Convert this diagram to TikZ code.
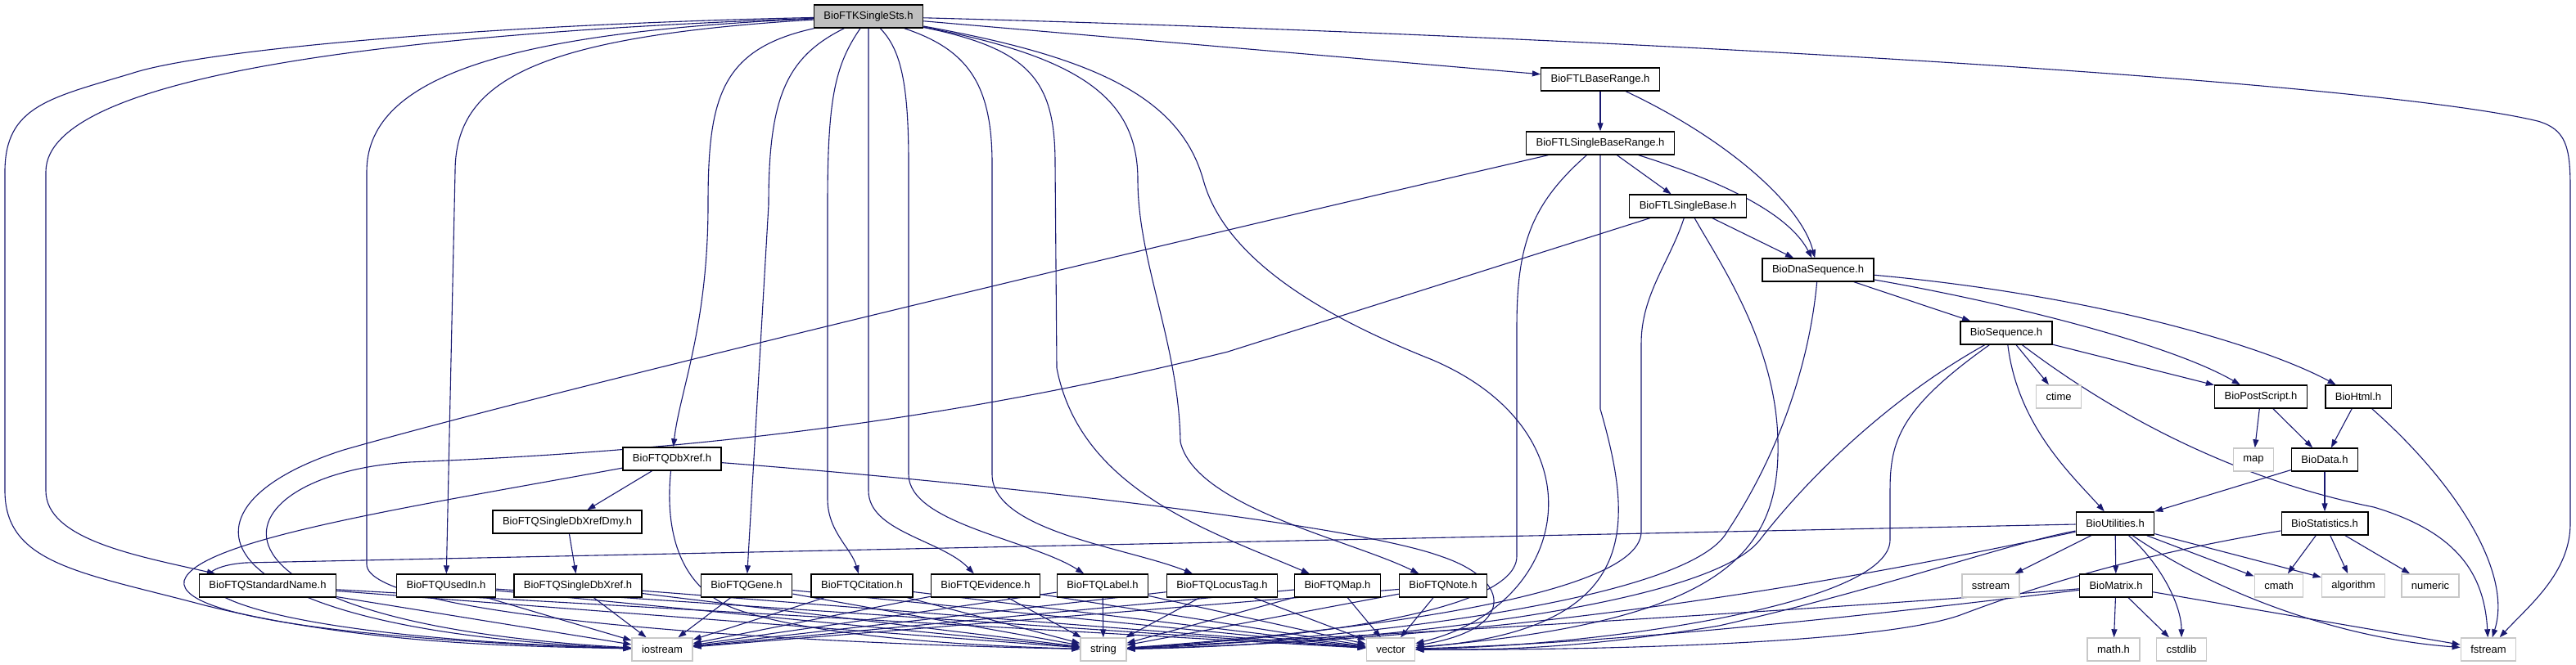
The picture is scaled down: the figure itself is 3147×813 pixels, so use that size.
\documentclass[tikz,border=0pt]{standalone}
\usepackage{fontspec}
\setmainfont{Liberation Sans}
\usetikzlibrary{arrows.meta}
\definecolor{edgeblue}{RGB}{25,25,112}
\definecolor{rootgrey}{RGB}{191,191,191}
\definecolor{sysgrey}{RGB}{200,200,200}
\pgfdeclarelayer{background}
\pgfsetlayers{background,main}

\begin{document}
\begin{tikzpicture}[x=0.5pt,y=0.5pt,yscale=-1,xscale=1,
  hdr/.style={draw=black,fill=white,line width=0.7pt,inner xsep=6pt,inner ysep=0pt,minimum height=14pt,font=\fontsize{6.5}{7}\selectfont},
  roothdr/.style={hdr,fill=rootgrey},
  syshdr/.style={hdr,draw=sysgrey},
  incl/.style={draw=edgeblue,line width=0.55pt,-{Triangle[length=5pt,width=3.5pt]}}]
%set diagram size: 3147 x 813
\useasboundingbox (0,0) rectangle (3147,813);

% Text Node
\node [roothdr] (root) at (1061,20) {BioFTKSingleSts.h};
% Text Node
\node [hdr] (baserange) at (1955,97) {BioFTLBaseRange.h};
% Text Node
\node [hdr] (sbaserange) at (1955,175) {BioFTLSingleBaseRange.h};
% Text Node
\node [hdr] (sbase) at (2062,252) {BioFTLSingleBase.h};
% Text Node
\node [hdr] (dnaseq) at (2221,330) {BioDnaSequence.h};
% Text Node
\node [hdr] (bioseq) at (2451,407) {BioSequence.h};
% Text Node
\node [syshdr] (ctime) at (2515,485) {ctime};
% Text Node
\node [hdr] (postscript) at (2762,485) {BioPostScript.h};
% Text Node
\node [hdr] (html) at (2881,485) {BioHtml.h};
% Text Node
\node [syshdr] (map) at (2753,562) {map};
% Text Node
\node [hdr] (biodata) at (2840,562) {BioData.h};
% Text Node
\node [hdr] (utilities) at (2584,640) {BioUtilities.h};
% Text Node
\node [hdr] (statistics) at (2840,640) {BioStatistics.h};
% Text Node
\node [syshdr] (sstream) at (2432,716) {sstream};
% Text Node
\node [hdr] (matrix) at (2585,716) {BioMatrix.h};
% Text Node
\node [syshdr] (cmath) at (2784,716) {cmath};
% Text Node
\node [syshdr] (algorithm) at (2875,716) {algorithm};
% Text Node
\node [syshdr] (numeric) at (2969,716) {numeric};
% Text Node
\node [syshdr] (mathh) at (2582,794) {math.h};
% Text Node
\node [syshdr] (cstdlib) at (2665,794) {cstdlib};
% Text Node
\node [syshdr] (fstream) at (3040,794) {fstream};
% Text Node
\node [hdr] (dbxref) at (821,561) {BioFTQDbXref.h};
% Text Node
\node [hdr] (dbxrefdmy) at (693,638) {BioFTQSingleDbXrefDmy.h};
% Text Node
\node [hdr] (stdname) at (327,716) {BioFTQStandardName.h};
% Text Node
\node [hdr] (usedin) at (545,716) {BioFTQUsedIn.h};
% Text Node
\node [hdr] (sdbxref) at (706,716) {BioFTQSingleDbXref.h};
% Text Node
\node [hdr] (gene) at (912,716) {BioFTQGene.h};
% Text Node
\node [hdr] (citation) at (1053,716) {BioFTQCitation.h};
% Text Node
\node [hdr] (evidence) at (1204,716) {BioFTQEvidence.h};
% Text Node
\node [hdr] (label) at (1347,716) {BioFTQLabel.h};
% Text Node
\node [hdr] (locustag) at (1493,716) {BioFTQLocusTag.h};
% Text Node
\node [hdr] (qmap) at (1634,716) {BioFTQMap.h};
% Text Node
\node [hdr] (note) at (1763,716) {BioFTQNote.h};
% Text Node
\node [syshdr] (iostream) at (809,794) {iostream};
% Text Node
\node [syshdr] (string) at (1348,794) {string};
% Text Node
\node [syshdr] (vector) at (1699,794) {vector};

\begin{pgfonlayer}{background}
%Curve Lines: root includes
\draw [incl] (root) .. controls (600,30) and (250,60) .. (160,90) .. controls (60,120) and (6,130) .. (6,210) -- (6,600) .. controls (6,690) and (100,700) .. (250,740) .. controls (450,790) and (650,790) .. (iostream);
\draw [incl] (root) .. controls (500,40) and (56,90) .. (56,210) -- (56,600) .. controls (56,660) and (170,680) .. (stdname);
\draw [incl] (root) .. controls (600,40) and (448,100) .. (448,210) -- (448,690) .. controls (448,750) and (900,785) .. (string);
\draw [incl] (root) .. controls (650,45) and (556,100) .. (556,210) -- (usedin);
\draw [incl] (root) .. controls (880,60) and (865,120) .. (865,250) .. controls (865,400) and (830,480) .. (dbxref);
\draw [incl] (root) .. controls (960,70) and (939,120) .. (939,250) -- (gene);
\draw [incl] (root) .. controls (1020,80) and (1011,120) .. (1011,250) -- (1011,610) .. controls (1011,650) and (1040,670) .. (citation);
\draw [incl] (root) -- (1061,600) .. controls (1061,650) and (1150,660) .. (evidence);
\draw [incl] (root) .. controls (1100,60) and (1110,100) .. (1110,200) -- (1110,580) .. controls (1110,640) and (1260,660) .. (label);
\draw [incl] (root) .. controls (1180,60) and (1212,100) .. (1212,200) -- (1212,580) .. controls (1212,650) and (1380,670) .. (locustag);
\draw [incl] (root) .. controls (1260,60) and (1289,100) .. (1289,200) -- (1291,450) .. controls (1320,600) and (1480,650) .. (qmap);
\draw [incl] (root) .. controls (1320,70) and (1390,120) .. (1390,220) .. controls (1390,320) and (1440,420) .. (1442,540) .. controls (1460,620) and (1650,660) .. (note);
\draw [incl] (root) .. controls (1340,70) and (1442,120) .. (1470,220) .. controls (1500,330) and (1650,400) .. (1750,440) .. controls (1960,530) and (1920,740) .. (vector);
\draw [incl] (root) -- (baserange);
\draw [incl] (root) .. controls (2000,45) and (2900,100) .. (3100,148) .. controls (3135,158) and (3140,180) .. (3140,230) -- (3140,640) .. controls (3140,700) and (3090,740) .. (fstream);

%Curve Lines: location headers
\draw [incl] (baserange) -- (sbaserange);
\draw [incl] (baserange) .. controls (2110,170) and (2200,250) .. (dnaseq);
\draw [incl] (sbaserange) .. controls (1500,280) and (700,470) .. (420,550) .. controls (200,620) and (230,770) .. (iostream);
\draw [incl] (sbaserange) .. controls (1870,250) and (1853,300) .. (1853,400) -- (1853,680) .. controls (1853,760) and (1500,785) .. (string);
\draw [incl] (sbaserange) -- (1955,500) .. controls (1995,640) and (2010,770) .. (vector);
\draw [incl] (sbaserange) -- (sbase);
\draw [incl] (sbaserange) .. controls (2130,230) and (2190,270) .. (dnaseq);
\draw [incl] (sbase) -- (1500,430) .. controls (1100,530) and (750,555) .. (500,565) .. controls (260,580) and (200,760) .. (iostream);
\draw [incl] (sbase) .. controls (2040,320) and (2005,360) .. (2005,420) -- (2005,650) .. controls (2005,740) and (1550,780) .. (string);
\draw [incl] (sbase) .. controls (2100,320) and (2170,420) .. (2172,540) .. controls (2175,680) and (2100,760) .. (vector);
\draw [incl] (sbase) -- (dnaseq);

%Curve Lines: sequence headers
\draw [incl] (dnaseq) -- (bioseq);
\draw [incl] (dnaseq) .. controls (2450,370) and (2650,420) .. (postscript);
\draw [incl] (dnaseq) .. controls (2550,360) and (2760,420) .. (html);
\draw [incl] (dnaseq) .. controls (2210,450) and (2170,560) .. (2110,650) .. controls (2060,740) and (1600,785) .. (string);
\draw [incl] (bioseq) -- (ctime);
\draw [incl] (bioseq) -- (postscript);
\draw [incl] (bioseq) .. controls (2465,520) and (2530,580) .. (utilities);
\draw [incl] (bioseq) .. controls (2640,550) and (2800,600) .. (2900,620) .. controls (3000,650) and (3035,700) .. (fstream);
\draw [incl] (bioseq) .. controls (2320,480) and (2220,570) .. (2150,660) .. controls (2080,750) and (1600,790) .. (string);
\draw [incl] (bioseq) .. controls (2320,500) and (2309,540) .. (2309,600) -- (2309,660) .. controls (2309,740) and (1950,790) .. (vector);
\draw [incl] (postscript) -- (map);
\draw [incl] (postscript) -- (biodata);
\draw [incl] (html) -- (biodata);
\draw [incl] (html) .. controls (3000,590) and (3070,700) .. (fstream);
\draw [incl] (biodata) -- (utilities);
\draw [incl] (biodata) -- (statistics);

%Curve Lines: utility headers
\draw [incl] (utilities) -- (300,688) .. controls (200,695) and (215,775) .. (iostream);
\draw [incl] (utilities) .. controls (2300,700) and (1900,780) .. (string);
\draw [incl] (utilities) .. controls (2450,665) and (2300,720) .. (2100,765) .. controls (1950,790) and (1850,795) .. (vector);
\draw [incl] (utilities) -- (sstream);
\draw [incl] (utilities) -- (matrix);
\draw [incl] (utilities) .. controls (2640,690) and (2665,740) .. (cstdlib);
\draw [incl] (utilities) .. controls (2700,720) and (2850,780) .. (fstream);
\draw [incl] (utilities) -- (cmath);
\draw [incl] (utilities) -- (algorithm);
\draw [incl] (statistics) .. controls (2600,680) and (2480,720) .. (2400,750) .. controls (2300,790) and (1900,795) .. (vector);
\draw [incl] (statistics) -- (cmath);
\draw [incl] (statistics) -- (algorithm);
\draw [incl] (statistics) -- (numeric);
\draw [incl] (matrix) -- (mathh);
\draw [incl] (matrix) -- (cstdlib);
\draw [incl] (matrix) -- (fstream);
\draw [incl] (matrix) .. controls (2300,740) and (1800,770) .. (string);
\draw [incl] (matrix) .. controls (2300,750) and (2000,785) .. (vector);

%Curve Lines: db xref headers
\draw [incl] (dbxref) -- (dbxrefdmy);
\draw [incl] (dbxref) .. controls (500,620) and (240,660) .. (225,710) .. controls (215,760) and (500,785) .. (iostream);
\draw [incl] (dbxref) .. controls (812,650) and (830,720) .. (900,745) .. controls (1000,780) and (1200,790) .. (string);
\draw [incl] (dbxref) .. controls (1200,590) and (1650,640) .. (1760,680) .. controls (1850,710) and (1850,770) .. (vector);
\draw [incl] (dbxrefdmy) -- (sdbxref);

%Straight Lines: qualifier headers
\draw [incl] (stdname) -- (iostream);
\draw [incl] (stdname) -- (string);
\draw [incl] (stdname) -- (vector);
\draw [incl] (usedin) -- (iostream);
\draw [incl] (usedin) -- (string);
\draw [incl] (usedin) -- (vector);
\draw [incl] (sdbxref) -- (iostream);
\draw [incl] (sdbxref) -- (string);
\draw [incl] (sdbxref) -- (vector);
\draw [incl] (gene) -- (iostream);
\draw [incl] (gene) -- (string);
\draw [incl] (gene) -- (vector);
\draw [incl] (citation) -- (iostream);
\draw [incl] (citation) -- (string);
\draw [incl] (citation) -- (vector);
\draw [incl] (evidence) -- (iostream);
\draw [incl] (evidence) -- (string);
\draw [incl] (evidence) -- (vector);
\draw [incl] (label) -- (iostream);
\draw [incl] (label) -- (string);
\draw [incl] (label) -- (vector);
\draw [incl] (locustag) -- (iostream);
\draw [incl] (locustag) -- (string);
\draw [incl] (locustag) -- (vector);
\draw [incl] (qmap) -- (iostream);
\draw [incl] (qmap) -- (string);
\draw [incl] (qmap) -- (vector);
\draw [incl] (note) -- (iostream);
\draw [incl] (note) -- (string);
\draw [incl] (note) -- (vector);
\end{pgfonlayer}

\end{tikzpicture}
\end{document}
